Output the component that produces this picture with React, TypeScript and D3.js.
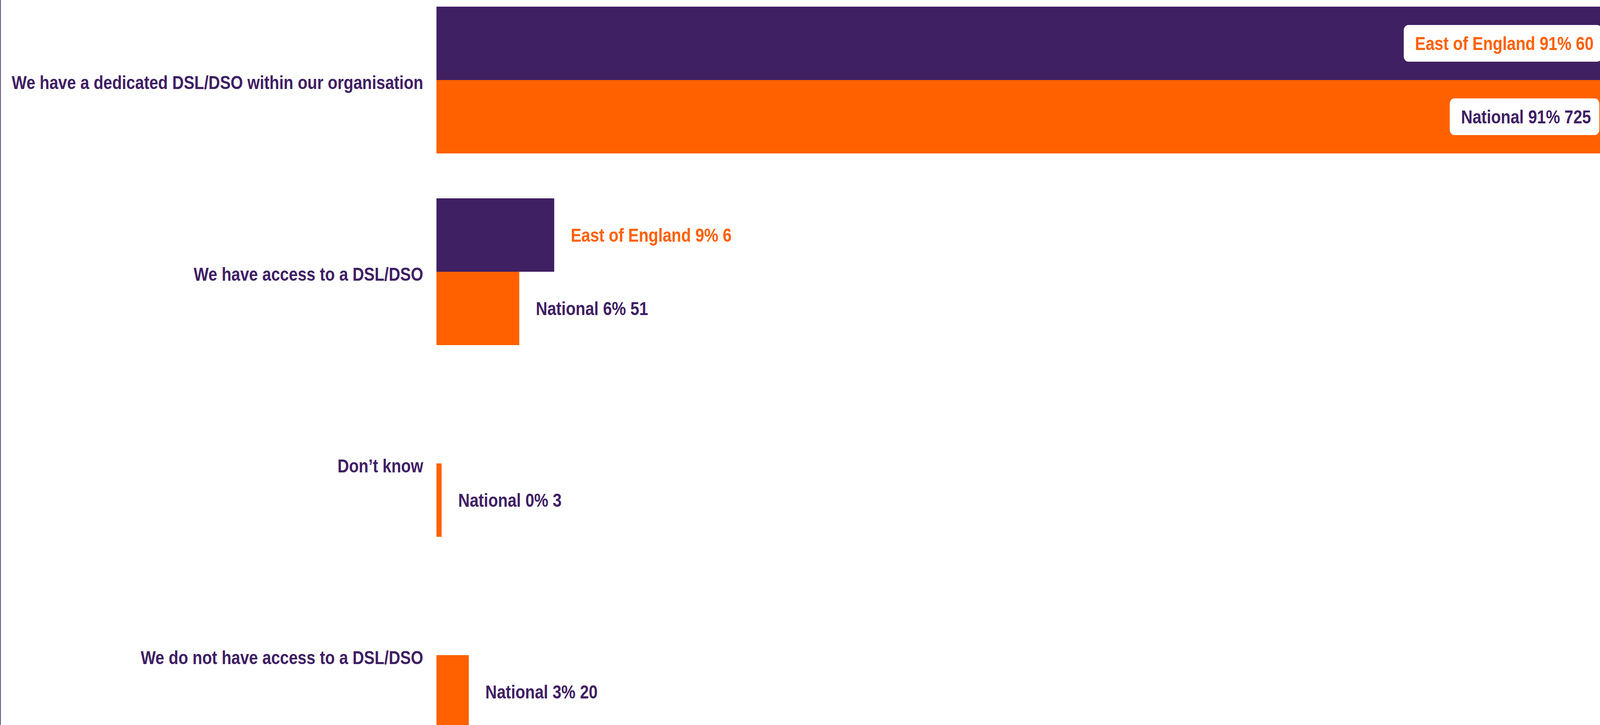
import React from "react";
import * as d3 from "d3";

const categories = [
  "We have a dedicated DSL/DSO within our organisation",
  "We have access to a DSL/DSO",
  "Don\u2019t know",
  "We do not have access to a DSL/DSO",
];
const seriesNames = ["East of England", "National"];
const eastPct = [90.9, 9.1, 0, 0];
const eastCount = [60, 6, 0, 0];
const nationalPct = [90.7, 6.4, 0.4, 2.5];
const nationalCount = [725, 51, 3, 20];

const W = 4828;
const H = 1857;
const PURPLE = "#3F2063";
const ORANGE = "#FF6100";
const FONT = "'Liberation Sans', Arial, Helvetica, sans-serif";

export default function App() {
  const x = d3.scaleLinear().domain([0, 100]).range([1317, 1317 + 3905]);
  const y = d3
    .scaleBand<string>()
    .domain(categories)
    .range([17, 1866])
    .paddingInner(115 / 491)
    .paddingOuter(0);
  const ySub = d3
    .scaleBand<string>()
    .domain(seriesNames)
    .range([0, y.bandwidth()])
    .padding(0);

  const series = [
    { name: seriesNames[0], pct: eastPct, count: eastCount, fill: PURPLE, text: ORANGE },
    { name: seriesNames[1], pct: nationalPct, count: nationalCount, fill: ORANGE, text: PURPLE },
  ];

  const fontSize = 48;
  const measure = (s: string) => {
    const ctx = document.createElement("canvas").getContext("2d");
    if (ctx) {
      ctx.font = `bold ${fontSize}px ${FONT}`;
      return ctx.measureText(s).width;
    }
    return s.length * fontSize * 0.55;
  };

  const vw = typeof window !== "undefined" ? window.innerWidth : W;
  const vh = typeof window !== "undefined" ? window.innerHeight : H;

  return (
    <svg
      width={vw}
      height={vh}
      viewBox={`0 0 ${W} ${H}`}
      preserveAspectRatio="none"
      style={{ position: "fixed", left: 0, top: 0, background: "#fff", display: "block" }}
    >
      <line x1={1} x2={1} y1={0} y2={H} stroke={PURPLE} strokeWidth={2} />
      {categories.map((c, i) => {
        const bandTop = y(c) as number;
        const center = bandTop + y.bandwidth() / 2;
        return (
          <g key={c}>
            <text
              x={1277}
              y={center + 23}
              textAnchor="end"
              fill={PURPLE}
              fontFamily={FONT}
              fontWeight="bold"
              fontSize={fontSize}
            >
              {c}
            </text>
            {series.map((s) => {
              if (s.count[i] === 0) return null;
              const top = bandTop + (ySub(s.name) as number);
              const h = ySub.bandwidth();
              const x0 = x(0);
              const x1 = x(s.pct[i]);
              const cy = top + h / 2;
              const label = `${s.name} ${Math.round(s.pct[i])}% ${s.count[i]}`;
              const inside = s.pct[i] > 50;
              if (inside) {
                const tEnd = x1 - 58;
                const tw = measure(label);
                const bx = tEnd - tw - 34;
                return (
                  <g key={s.name}>
                    <rect x={x0} y={top} width={x1 - x0} height={h} fill={s.fill} />
                    <rect
                      x={bx}
                      y={cy - 47}
                      width={x1 - 33 - bx}
                      height={94}
                      rx={14}
                      ry={14}
                      fill="#fff"
                    />
                    <text
                      x={tEnd}
                      y={cy + 17}
                      textAnchor="end"
                      fill={s.text}
                      fontFamily={FONT}
                      fontWeight="bold"
                      fontSize={fontSize}
                    >
                      {label}
                    </text>
                  </g>
                );
              }
              return (
                <g key={s.name}>
                  <rect x={x0} y={top} width={x1 - x0} height={h} fill={s.fill} />
                  <text
                    x={x1 + 50}
                    y={cy + 17}
                    textAnchor="start"
                    fill={s.text}
                    fontFamily={FONT}
                    fontWeight="bold"
                    fontSize={fontSize}
                  >
                    {label}
                  </text>
                </g>
              );
            })}
          </g>
        );
      })}
    </svg>
  );
}
